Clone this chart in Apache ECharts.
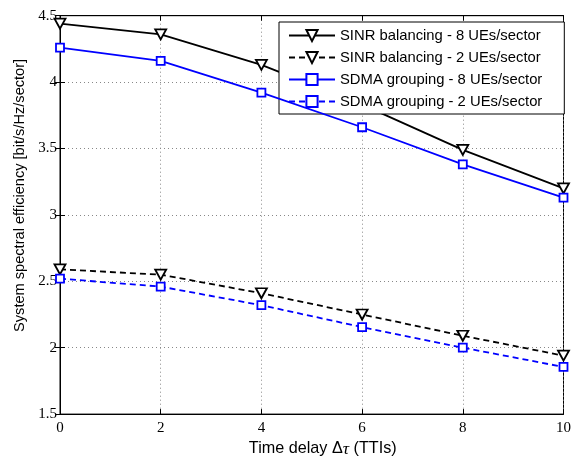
<!DOCTYPE html>
<html><head><meta charset="utf-8">
<script src="https://cdn.jsdelivr.net/npm/echarts@6/dist/echarts.min.js"></script>
<style>html,body{margin:0;padding:0;background:#fff}#c{width:574px;height:463px}</style>
</head><body><div id="c"></div>
<script>
const delays = [0, 2, 4, 6, 8, 10];
const sinr8 = [4.44, 4.36, 4.13, 3.83, 3.49, 3.20];
const sinr2 = [2.59, 2.55, 2.41, 2.25, 2.09, 1.94];
const sdma8 = [4.26, 4.16, 3.92, 3.66, 3.38, 3.13];
const sdma2 = [2.52, 2.46, 2.32, 2.155, 2.00, 1.855];
const names = ['SINR balancing - 8 UEs/sector','SINR balancing - 2 UEs/sector','SDMA grouping - 8 UEs/sector','SDMA grouping - 2 UEs/sector'];

const pair = a => delays.map((d,i)=>[d,a[i]]);
function mk(name, data, color, dashed, tri){
  return {
    name, type:'line', data: pair(data), xAxisIndex:0, yAxisIndex:0,
    symbol: tri ? 'triangle' : 'rect',
    symbolRotate: tri ? 180 : 0,
    symbolSize: tri ? [11,10] : 8,
    showAllSymbol: true,
    lineStyle:{color, width:1.8, type: dashed ? [6,4] : 'solid'},
    itemStyle:{color:'#fff', borderColor:color, borderWidth:1.8},
    emphasis:{disabled:true}, animation:false, z: tri?3:4
  };
}
const chart = echarts.init(document.getElementById('c'));
const tickLab = {fontFamily:'Liberation Serif', fontSize:15, color:'#000'};
chart.setOption({
  animation:false,
  grid:{left:60, right:5, top:15.7, bottom:46.3, show:true, borderColor:'#000', borderWidth:1},
  legend:{
    orient:'vertical', left:279, top:22, data:names,
    itemWidth:46, itemHeight:14, itemGap:7,
    padding:[6,22,5,9],
    backgroundColor:'#fff', borderColor:'#000', borderWidth:1,
    textStyle:{fontFamily:'Liberation Sans', fontSize:14.8, color:'#000'}
  },
  xAxis:[{
    type:'value', min:0, max:10, interval:2,
    axisLine:{lineStyle:{color:'#000'}},
    axisTick:{inside:true, length:5, lineStyle:{color:'#000'}},
    axisLabel:Object.assign({margin:6}, tickLab),
    splitLine:{show:true, lineStyle:{color:'#888', type:[1,3]}},
    name:'Time delay Δ{i|τ} (TTIs)', nameLocation:'middle', nameGap:24,
    nameTextStyle:{fontFamily:'Liberation Sans', fontSize:16.2, color:'#000', padding:[0,0,0,22],
      rich:{i:{fontFamily:'Liberation Serif', fontStyle:'italic', fontSize:17.5}}}
  },{
    type:'value', min:0, max:10, interval:2, position:'top',
    axisLine:{lineStyle:{color:'#000'}},
    axisTick:{inside:true, length:5, lineStyle:{color:'#000'}},
    axisLabel:{show:false}, splitLine:{show:false}
  }],
  yAxis:[{
    type:'value', min:1.5, max:4.5, interval:0.5,
    axisLine:{show:true, lineStyle:{color:'#000'}},
    axisTick:{show:true, inside:true, length:5, lineStyle:{color:'#000'}},
    axisLabel:Object.assign({margin:3}, tickLab),
    splitLine:{show:true, lineStyle:{color:'#888', type:[1,3]}},
    name:'System spectral efficiency [bit/s/Hz/sector]', nameLocation:'middle', nameGap:30,
    nameTextStyle:{fontFamily:'Liberation Sans', fontSize:14.6, color:'#000', padding:[0,0,0,39]}
  },{
    type:'value', min:1.5, max:4.5, interval:0.5, position:'right',
    axisLine:{show:true, lineStyle:{color:'#000'}},
    axisTick:{show:true, inside:true, length:5, lineStyle:{color:'#000'}},
    axisLabel:{show:false}, splitLine:{show:false}
  }],
  series:[
    mk(names[0], sinr8, '#000', false, true),
    mk(names[1], sinr2, '#000', true, true),
    mk(names[2], sdma8, '#0000ff', false, false),
    mk(names[3], sdma2, '#0000ff', true, false)
  ]
});
</script></body></html>
